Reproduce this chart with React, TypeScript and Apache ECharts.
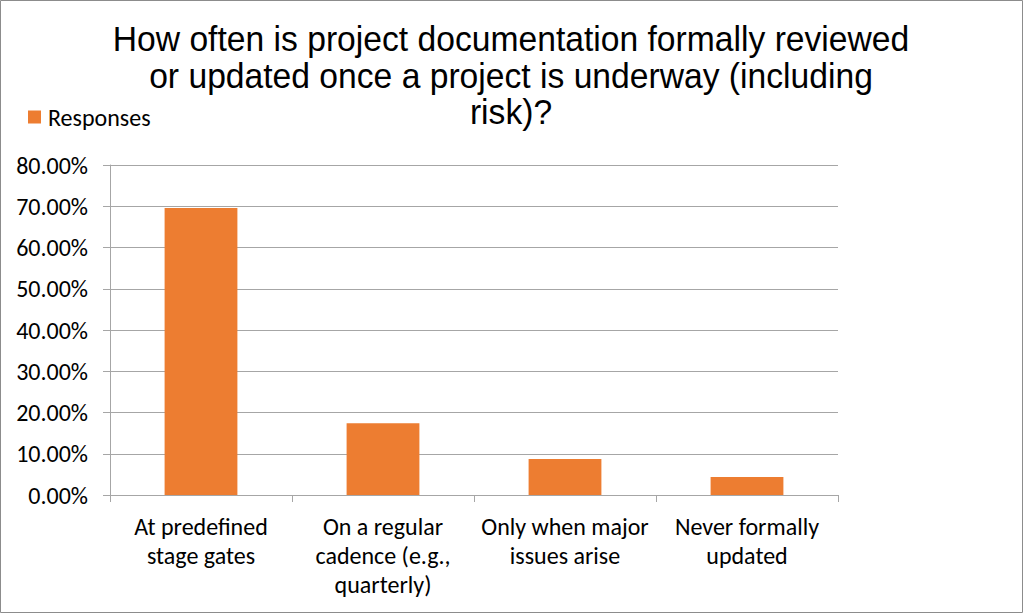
import React, { useEffect, useRef } from "react";
import * as echarts from "echarts";

const titleLines = [
  "How often is project documentation formally reviewed",
  "or updated once a project is underway (including",
  "risk)?",
];
const categories = [
  "At predefined\nstage gates",
  "On a regular\ncadence (e.g.,\nquarterly)",
  "Only when major\nissues arise",
  "Never formally\nupdated",
];
const seriesName = "Responses";
const responses = [69.57, 17.39, 8.7, 4.35];
const yMin = 0;
const yMax = 80;
const yStep = 10;

const labelFont = "Carlito, Calibri, Lato, 'Open Sans', sans-serif";
const titleFont = "'Liberation Sans', Arial, sans-serif";

export default function App() {
  const ref = useRef<HTMLDivElement>(null);
  useEffect(() => {
    if (!ref.current) return;
    const chart = echarts.init(ref.current, null, { renderer: "svg" });
    const titleBaselines = [50, 87, 123];
    chart.setOption({
      animation: false,
      backgroundColor: "#ffffff",
      legend: {
        left: 28,
        top: 105,
        padding: 0,
        itemWidth: 13,
        itemHeight: 13,
        itemGap: 10,
        icon: "rect",
        textStyle: {
          fontFamily: labelFont,
          fontSize: 24,
          lineHeight: 24,
          color: "#000000",
          padding: [0, 0, 0, 2],
        },
        data: [seriesName],
      },
      grid: { left: 110, right: 186, top: 165, bottom: 120, containLabel: false },
      xAxis: {
        type: "category",
        data: categories,
        axisLine: { lineStyle: { color: "#a6a6a6", width: 1 } },
        axisTick: { show: true, length: 7, lineStyle: { color: "#a6a6a6" } },
        axisLabel: {
          interval: 0,
          margin: 17,
          fontFamily: labelFont,
          fontSize: 24,
          lineHeight: 29,
          color: "#000000",
        },
      },
      yAxis: {
        type: "value",
        min: yMin,
        max: yMax,
        interval: yStep,
        axisLine: { show: true, lineStyle: { color: "#a6a6a6", width: 1 } },
        axisTick: { show: true, length: 7, lineStyle: { color: "#a6a6a6" } },
        splitLine: { show: true, lineStyle: { color: "#a6a6a6", width: 1 } },
        axisLabel: {
          margin: 22,
          fontFamily: labelFont,
          fontSize: 24,
          color: "#000000",
          formatter: (v: number) => v.toFixed(2) + "%",
        },
      },
      series: [
        {
          name: seriesName,
          type: "bar",
          data: responses,
          barCategoryGap: "60%",
          itemStyle: { color: "#ed7d31" },
        },
      ],
      graphic: [
        ...titleLines.map((line, i) => ({
          type: "text",
          x: 511,
          y: titleBaselines[i] - 12,
          scaleX: 0.935,
          originX: 0,
          silent: true,
          style: {
            text: line,
            x: 0,
            y: 0,
            align: "center",
            verticalAlign: "middle",
            fontFamily: titleFont,
            fontSize: 36,
            fill: "#000000",
          },
        })),
        {
          type: "rect",
          shape: { x: 0.5, y: 0.5, width: 1022, height: 612 },
          style: { fill: "none", stroke: "#8c8c8c", lineWidth: 1 },
          silent: true,
          z: 100,
        },
      ],
    });
    return () => chart.dispose();
  }, []);
  return (
    <div
      ref={ref}
      style={{ position: "absolute", left: 0, top: 0, width: 1024, height: 615 }}
    />
  );
}
